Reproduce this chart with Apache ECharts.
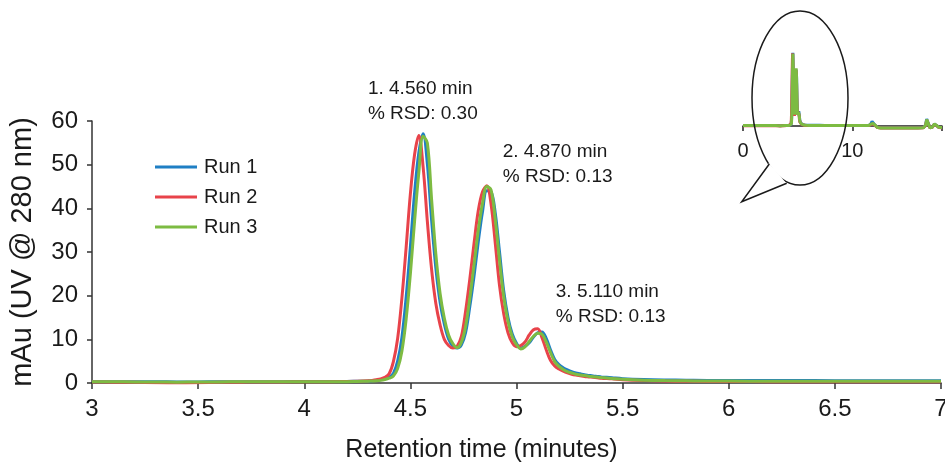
<!DOCTYPE html>
<html><head><meta charset="utf-8">
<script src="https://cdn.jsdelivr.net/npm/echarts@6/dist/echarts.min.js"></script>
<style>html,body{margin:0;padding:0;background:#fff}#c{width:945px;height:467px}</style>
</head><body><div id="c"></div>
<script>
// ---------- DATA ----------
const time = [3.0,3.1,3.2,3.3,3.4,3.5,3.6,3.7,3.8,3.9,4.0,4.1,4.2,4.25,4.30,
  4.32,4.34,4.36,4.38,4.40,4.42,4.44,4.46,4.48,4.50,4.52,4.54,4.56,4.58,4.60,
  4.62,4.64,4.66,4.68,4.70,4.72,4.74,4.76,4.78,4.80,4.82,4.84,4.86,4.88,4.90,
  4.92,4.94,4.96,4.98,5.00,5.02,5.04,5.06,5.08,5.10,5.12,5.14,5.16,5.18,5.20,
  5.22,5.24,5.26,5.28,5.30,5.32,5.34,5.36,5.38,5.40,
  5.45,5.5,5.6,5.7,5.8,5.9,6.0,6.2,6.4,6.6,6.8,7.0];
const run1 = [0.3,0.3,0.3,0.3,0.25,0.25,0.3,0.3,0.3,0.3,0.35,0.35,0.35,0.4,0.45,
  0.5,0.6,0.75,0.95,1.3,2.2,5.0,10.4,19.6,31.2,43.6,52.8,57.1,50.2,37.3,
  26.3,18.5,13.5,10.1,8.5,8.0,8.7,11.5,17.5,24.5,32.4,39.3,44.0,43.8,38.9,
  30.0,21.0,15.0,11.2,9.1,8.0,8.4,9.2,10.5,11.5,11.7,10.2,7.6,5.4,4.2,
  3.5,3.0,2.6,2.3,2.1,1.9,1.75,1.6,1.5,1.4,
  1.2,1.0,0.8,0.7,0.65,0.6,0.6,0.55,0.55,0.5,0.5,0.5];
const run2 = [0.25,0.2,0.15,0.05,0.0,0.05,0.15,0.2,0.25,0.25,0.3,0.3,0.35,0.4,0.5,
  0.6,0.75,0.95,1.3,2.1,4.9,10.2,19.4,31.0,43.3,52.4,56.7,49.5,37.0,26.0,
  18.2,13.3,10.0,8.6,8.0,8.4,10.6,16.4,23.8,32.0,39.5,43.8,45.2,41.0,32.0,
  22.3,15.8,11.5,9.2,8.3,8.6,9.4,11.0,12.2,12.4,10.4,7.6,5.2,3.9,3.2,
  2.7,2.3,2.0,1.8,1.65,1.5,1.4,1.3,1.2,1.1,
  0.95,0.75,0.55,0.45,0.4,0.35,0.35,0.3,0.3,0.3,0.3,0.3];
const run3 = [0.3,0.3,0.25,0.25,0.2,0.25,0.25,0.3,0.3,0.3,0.3,0.3,0.3,0.35,0.4,
  0.45,0.5,0.6,0.8,1.1,1.6,3.3,7.3,14.6,25.0,37.2,48.3,56.5,55.0,42.0,
  29.5,20.5,14.8,11.0,9.0,8.1,9.3,12.9,19.4,27.1,35.0,41.2,45.0,44.2,37.4,
  28.1,19.7,14.1,10.6,8.8,7.8,8.3,9.5,10.7,11.4,11.2,9.4,7.0,4.9,3.8,
  3.1,2.6,2.3,2.0,1.85,1.7,1.55,1.45,1.35,1.25,
  1.05,0.85,0.65,0.55,0.5,0.45,0.45,0.4,0.4,0.4,0.4,0.4];
const runNames = ['Run 1','Run 2','Run 3'];
const xTickValues = [3,3.5,4,4.5,5,5.5,6,6.5,7];
const yTickValues = [0,10,20,30,40,50,60];
const insetTickValues = [0,10];

// full-run inset (0-18 min): early + main window + late
const insetEarlyTime = [0,0.5,1.0,1.4,1.5,1.6,2.0,2.5];
const insetEarly1 = [0.3,0.3,0.3,0.3,0.6,0.3,0.3,0.3];
const insetEarly2 = [0.2,0.2,0.2,0.2,0.6,0.2,0.2,0.2];
const insetEarly3 = [0.4,0.4,0.4,0.4,1.2,0.4,0.4,0.4];
const insetLateTime = [7.5,8,9,10,11,11.5,11.7,11.8,11.9,12.1,12.3,12.6,13,14,15,16,16.5,16.7,16.8,16.9,17.1,17.3,17.5,17.7,17.9,18.2];
const insetLate1 = [0.4,0.4,0.4,0.3,0.3,0.3,1.8,3.5,2.0,0.4,-1.0,-1.3,-1.3,-1.3,-1.3,-1.3,-1.2,0.8,5.5,3.0,-1.3,-0.8,1.5,0.4,-1.0,-1.2];
const insetLate2 = [0.3,0.3,0.3,0.3,0.3,0.3,1.2,2.5,1.5,0.3,-1.2,-1.5,-1.5,-1.5,-1.5,-1.5,-1.4,0.4,4.5,2.6,-1.5,-1.0,1.2,0.3,-1.1,-1.4];
const insetLate3 = [0.4,0.4,0.4,0.3,0.3,0.3,1.5,3.0,2.0,0.5,-1.2,-1.5,-1.5,-1.5,-1.5,-1.5,-1.4,0.5,5.0,3.0,-1.5,-1.0,1.5,0.5,-1.0,-1.2];

const peakLabels = ['1. 4.560 min\n% RSD: 0.30','2. 4.870 min\n% RSD: 0.13','3. 5.110 min\n% RSD: 0.13'];

// ---------- STYLE / LAYOUT ----------
const colors = ['#1f7fc4','#e8434a','#7dbb42'];
const FONT = '"Liberation Sans",Arial,sans-serif';
const TXT = '#1a1a1a';
const labelAnchors = [[4.30,70.3],[4.935,55.9],[5.185,23.8]]; // data-space anchors for annotation text

function pairs(t, v){ return t.map((x,i)=>[x, v[i]]); }
const mainRuns = [run1, run2, run3];
const insetEarly = [insetEarly1, insetEarly2, insetEarly3];
const insetLate = [insetLate1, insetLate2, insetLate3];

const chart = echarts.init(document.getElementById('c'), null, {renderer:'canvas'});

const series = [];
mainRuns.forEach((r,i)=>{
  series.push({
    name: runNames[i], type:'line', xAxisIndex:0, yAxisIndex:0,
    data: pairs(time, r), showSymbol:false, symbol:'none', smooth:0.35,
    lineStyle:{color:colors[i], width:3}, itemStyle:{color:colors[i]},
    emphasis:{disabled:true}, animation:false, z: 2+i
  });
});
mainRuns.forEach((r,i)=>{
  const d = pairs(insetEarlyTime, insetEarly[i]).concat(pairs(time, r)).concat(pairs(insetLateTime, insetLate[i]));
  series.push({
    name: runNames[i]+' (full)', type:'line', xAxisIndex:1, yAxisIndex:1,
    data: d, showSymbol:false, symbol:'none', smooth:false,
    lineStyle:{color:colors[i], width:3}, emphasis:{disabled:true}, animation:false, z: 2+i
  });
});

const axisLineStyle = {color:'#333', width:1.5};

chart.setOption({
  animation:false,
  backgroundColor:'#fff',
  grid:[
    {left:92, right:4, top:121, bottom:84, outerBoundsMode:'none', containLabel:false},
    {left:743, right:3, top:49.2, bottom:334.6, outerBoundsMode:'none', containLabel:false}
  ],
  xAxis:[
    {type:'value', gridIndex:0, min:3, max:7, interval:0.5,
     axisLine:{show:true, onZero:false, lineStyle:axisLineStyle},
     axisTick:{show:true, length:6, lineStyle:axisLineStyle},
     axisLabel:{fontFamily:FONT, fontSize:24, color:TXT, margin:14,
       customValues: xTickValues},
     splitLine:{show:false},
     name:'Retention time (minutes)', nameLocation:'middle', nameGap:55,
     nameTextStyle:{fontFamily:FONT, fontSize:25, color:TXT, padding:[0,70,0,0]}},
    {type:'value', gridIndex:1, min:0, max:18.2, interval:10,
     axisLine:{show:true, onZero:true, lineStyle:{color:'#222', width:1.5}},
     axisTick:{show:true, length:5, lineStyle:{color:'#222', width:1.5}},
     axisLabel:{fontFamily:FONT, fontSize:20, color:TXT, margin:9,
       customValues: insetTickValues},
     splitLine:{show:false}}
  ],
  yAxis:[
    {type:'value', gridIndex:0, min:0, max:60, interval:10,
     axisLine:{show:true, lineStyle:axisLineStyle},
     axisTick:{show:true, length:5, lineStyle:axisLineStyle},
     axisLabel:{fontFamily:FONT, fontSize:24, color:TXT, margin:14,
       customValues: yTickValues},
     splitLine:{show:false},
     name:'mAu (UV @ 280 nm)', nameLocation:'middle', nameGap:55,
     nameTextStyle:{fontFamily:FONT, fontSize:29, color:TXT}},
    {type:'value', gridIndex:1, min:-5, max:60, show:false, splitLine:{show:false}}
  ],
  legend:{
    data: runNames, orient:'vertical', left:150, top:151,
    icon:'rect', itemWidth:42, itemHeight:3, itemGap:8,
    textStyle:{fontFamily:FONT, fontSize:20, color:TXT, lineHeight:22, padding:[0,0,0,2]},
    selectedMode:false
  },
  series: series,
  graphic: [
    {type:'ellipse', z:50, shape:{cx:800, cy:98, rx:48, ry:87},
     style:{fill:'transparent', stroke:'#1a1a1a', lineWidth:1.5}},
    {type:'polygon', z:51, shape:{points:[[769,163],[742,202],[787,184]]},
     style:{fill:'#fff', stroke:null}},
    {type:'polyline', z:52, shape:{points:[[769.3,164],[741.7,201.7],[786.7,183.3]]},
     style:{fill:null, stroke:'#1a1a1a', lineWidth:1.5}}
  ]
});

// annotation text placed through the axis scales
const g = peakLabels.map((txt,i)=>{
  const p = chart.convertToPixel({gridIndex:0}, labelAnchors[i]);
  return {id:'ann'+i, type:'text', z:60, x:p[0], y:p[1],
    style:{text:txt, fontFamily:FONT, fontSize:19, fill:TXT, lineHeight:25,
      textAlign:'left', textVerticalAlign:'top'}};
});
chart.setOption({graphic: g});
</script></body></html>
